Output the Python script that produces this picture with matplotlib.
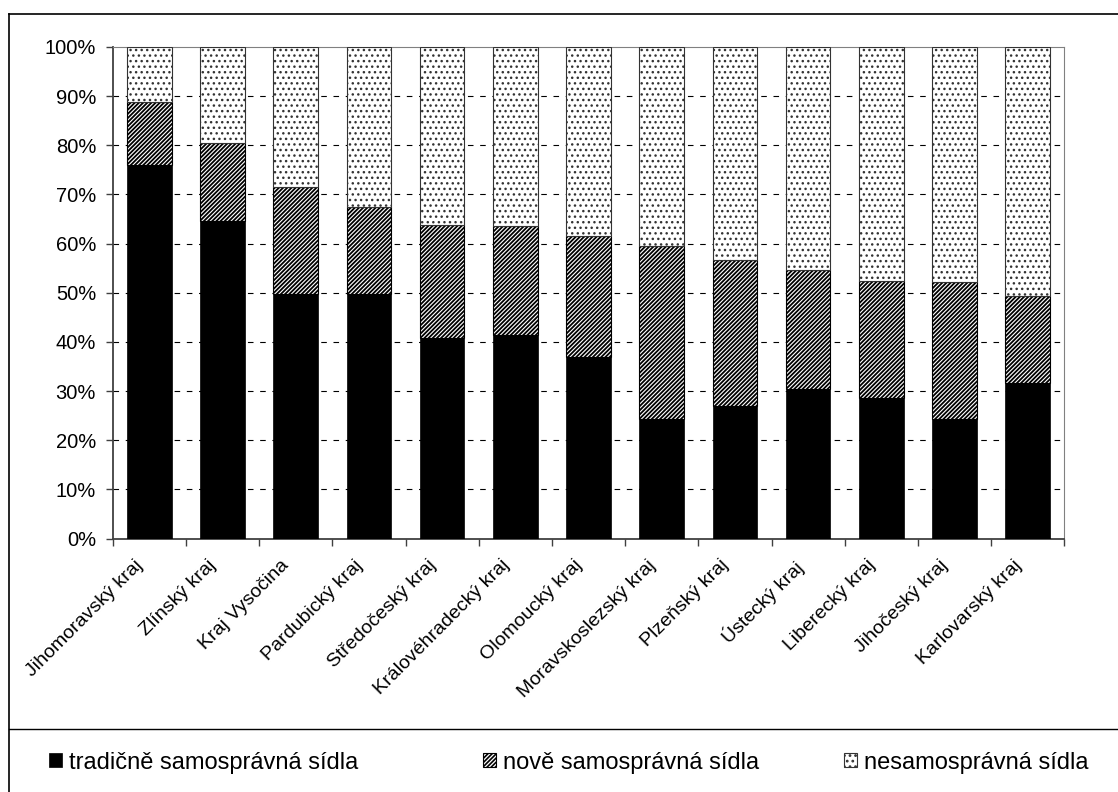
import numpy as np
import matplotlib
matplotlib.use('Agg')
import matplotlib.pyplot as plt
from matplotlib.lines import Line2D
from matplotlib.transforms import ScaledTranslation

plt.rcParams['font.family'] = ['Liberation Sans', 'DejaVu Sans']
plt.rcParams['hatch.linewidth'] = 1.2

# Data (share of settlements, %)
kraje = ['Jihomoravský kraj', 'Zlínský kraj', 'Kraj Vysočina', 'Pardubický kraj',
         'Středočeský kraj', 'Královéhradecký kraj', 'Olomoucký kraj',
         'Moravskoslezský kraj', 'Plzeňský kraj', 'Ústecký kraj', 'Liberecký kraj',
         'Jihočeský kraj', 'Karlovarský kraj']
tradicne = [75.9, 64.5, 49.8, 49.7, 40.8, 41.4, 37.0, 24.4, 26.9, 30.5, 28.5, 24.4, 31.7]
nove_top = [88.9, 80.4, 71.5, 67.4, 63.8, 63.5, 61.6, 59.6, 56.6, 54.6, 52.3, 52.1, 49.4]
nove = [t - b for t, b in zip(nove_top, tradicne)]
nesamo = [100 - t for t in nove_top]

series_names = ['tradičně samosprávná sídla', 'nově samosprávná sídla', 'nesamosprávná sídla']

fig = plt.figure(figsize=(11.18, 7.92), dpi=100)
ax = fig.add_axes([0.1008, 0.320, 0.8512, 0.6207])

x = np.arange(len(kraje))
w = 0.61
b1 = ax.bar(x, tradicne, w, color='black', edgecolor='black', linewidth=0.5, zorder=3)
b2 = ax.bar(x, nove, w, bottom=tradicne, color='white', edgecolor='black',
            hatch='////////', linewidth=0.8, zorder=3)
b3 = ax.bar(x, nesamo, w, bottom=nove_top, color='white', edgecolor='#333333',
            hatch='...', linewidth=0.8, zorder=3)

# thicker stripes, finer dots
for bars, hlw in ((b2, 1.3), (b3, 1.0)):
    for p in bars:
        if hasattr(p, 'set_hatch_linewidth'):
            p.set_hatch_linewidth(hlw)

ax.set_xlim(-0.5, len(kraje) - 0.5)
ax.set_ylim(0, 100)
ax.set_yticks(np.arange(0, 101, 10))
ax.set_yticklabels([f'{v}%' for v in range(0, 101, 10)], fontsize=14.5)
ax.set_xticks(np.arange(len(kraje) + 1) - 0.5)
ax.set_xticklabels([])
ax.set_xticks(x, kraje, minor=True, rotation=45, ha='right', va='top',
              rotation_mode='anchor', fontsize=14)
ax.tick_params(axis='x', which='minor', length=0, pad=13)
ax.tick_params(axis='both', which='major', length=5, width=1, color='#404040',
               direction='out')
ax.tick_params(axis='y', pad=7)

# nudge the rotated category labels to the left, like the original
shift = ScaledTranslation(-15 / 100, 0, fig.dpi_scale_trans)
for lab in ax.get_xticklabels(minor=True):
    lab.set_transform(lab.get_transform() + shift)

for v in range(10, 100, 10):
    ax.axhline(v, color='black', linewidth=0.8, linestyle=(0, (5, 6)), zorder=1)

ax.spines['left'].set_color('#404040')
ax.spines['bottom'].set_color('#404040')
ax.spines['left'].set_linewidth(1.3)
ax.spines['bottom'].set_linewidth(1.3)
ax.spines['top'].set_color('#808080')
ax.spines['right'].set_color('#808080')

# outer frame and legend separator
fig.add_artist(Line2D([0.008, 0.008], [0, 0.9823], transform=fig.transFigure,
                      color='black', linewidth=1.2))
fig.add_artist(Line2D([0.008, 1], [0.9823, 0.9823], transform=fig.transFigure,
                      color='black', linewidth=1.2))
fig.add_artist(Line2D([0.008, 1], [0.0795, 0.0795], transform=fig.transFigure,
                      color='black', linewidth=1.0))

# legend entries placed one by one
for handle, name, x0 in zip([b1, b2, b3], series_names, [0.0438, 0.432, 0.755]):
    fig.legend([handle], [name], loc='center left', bbox_to_anchor=(x0, 0.037),
               frameon=False, fontsize=17, handlelength=0.55, handleheight=0.55,
               handletextpad=0.3, borderpad=0, borderaxespad=0)

fig.savefig('out.png', dpi=100)
